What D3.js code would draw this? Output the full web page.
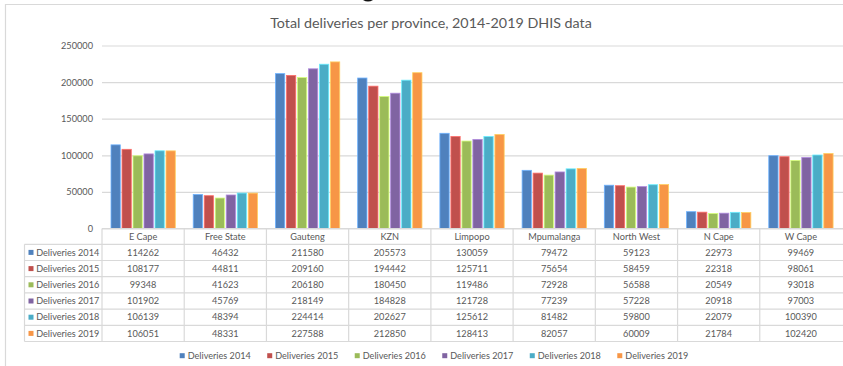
<!DOCTYPE html>
<html>
<head>
<meta charset="utf-8">
<script src="https://cdn.jsdelivr.net/npm/d3@7"></script>
<style>
  html, body { margin: 0; padding: 0; background: #fff; }
  svg { display: block; }
  text { font-family: Lato, "Noto Sans", sans-serif; fill: #595959; }
</style>
</head>
<body>
<svg id="chart" width="843" height="366"></svg>
<script>
// Provinces along the category axis
const provinces = ["E Cape", "Free State", "Gauteng", "KZN", "Limpopo", "Mpumalanga", "North West", "N Cape", "W Cape"];

// Series names (one per year)
const seriesNames = ["Deliveries 2014", "Deliveries 2015", "Deliveries 2016", "Deliveries 2017", "Deliveries 2018", "Deliveries 2019"];

// Deliveries per province, one array per year
const deliveries2014 = [114262, 46432, 211580, 205573, 130059, 79472, 59123, 22973, 99469];
const deliveries2015 = [108177, 44811, 209160, 194442, 125711, 75654, 58459, 22318, 98061];
const deliveries2016 = [99348, 41623, 206180, 180450, 119486, 72928, 56588, 20549, 93018];
const deliveries2017 = [101902, 45769, 218149, 184828, 121728, 77239, 57228, 20918, 97003];
const deliveries2018 = [106139, 48394, 224414, 202627, 125612, 81482, 59800, 22079, 100390];
const deliveries2019 = [106051, 48331, 227588, 212850, 128413, 82057, 60009, 21784, 102420];

// Value axis ticks
const yTicks = [0, 50000, 100000, 150000, 200000, 250000];

const seriesValues = [deliveries2014, deliveries2015, deliveries2016, deliveries2017, deliveries2018, deliveries2019];
const seriesColors = ["#4f81bd", "#c0504d", "#9bbb59", "#8064a2", "#4bacc6", "#f79646"];

const svg = d3.select("#chart");
const W = 843, H = 366;

// Layout
const plotLeft = 102, plotRight = 842;
const plotTop = 45.5, plotBottom = 228.5;
const headerLeft = 24.5;
const rowH = 16.2;
const tableTop = plotBottom;          // header row (province names)
const rowsTop = tableTop + 15.8;      // first data row
const tableBottom = rowsTop + rowH * seriesNames.length;
const gridColor = "#d9d9d9";

// Scales
const x0 = d3.scaleBand().domain(provinces).range([plotLeft, plotRight]).padding(0);
const x1 = d3.scaleBand().domain(seriesNames).range([9, 73.3]).paddingInner(0.155).paddingOuter(0);
const y = d3.scaleLinear().domain([0, 250000]).range([plotBottom, plotTop]);
const color = d3.scaleOrdinal().domain(seriesNames).range(seriesColors);

// Chart frame (top and left edges visible)
svg.append("path")
  .attr("d", `M5.5,${H} V4.5 H${W}`)
  .attr("fill", "none").attr("stroke", gridColor).attr("stroke-width", 1.2);

// Dark sliver at the very top edge, left over from the page above the chart
svg.append("path")
  .attr("d", "M363,0 Q368,3 373,0 Z")
  .attr("fill", "#111");

// Title
svg.append("text")
  .attr("x", 431).attr("y", 27.5)
  .attr("text-anchor", "middle")
  .style("font-size", "14.3px")
  .text("Total deliveries per province, 2014-2019 DHIS data");

// Gridlines and value labels
const yAxis = d3.axisLeft(y).tickValues(yTicks).tickSize(-(W - plotLeft)).tickPadding(9).tickFormat(d3.format("d"));
const gy = svg.append("g").attr("transform", `translate(${plotLeft},0)`).call(yAxis);
gy.select(".domain").remove();
gy.selectAll(".tick line").attr("stroke", gridColor).attr("stroke-width", 1.2);
gy.selectAll(".tick text").style("font-size", "9.2px").attr("fill", "#595959").attr("font-family", null);

// Bars
const groups = svg.append("g").selectAll("g")
  .data(provinces)
  .join("g")
  .attr("transform", d => `translate(${x0(d)},0)`);

groups.selectAll("rect")
  .data((p, i) => seriesNames.map((s, k) => ({ series: s, value: seriesValues[k][i] })))
  .join("rect")
  .attr("x", d => x1(d.series))
  .attr("width", x1.bandwidth())
  .attr("y", d => y(d.value))
  .attr("height", d => y(0) - y(d.value))
  .attr("fill", d => color(d.series))
  .attr("stroke", d => d3.color(color(d.series)).brighter(0.9))
  .attr("stroke-width", 0.8);

// Data table
const table = svg.append("g");

// horizontal rules
table.append("line")
  .attr("x1", plotLeft).attr("x2", W).attr("y1", tableTop).attr("y2", tableTop)
  .attr("stroke", gridColor).attr("stroke-width", 1.2);
d3.range(seriesNames.length + 1).forEach(i => {
  const yy = rowsTop + i * rowH;
  table.append("line")
    .attr("x1", headerLeft).attr("x2", W).attr("y1", yy).attr("y2", yy)
    .attr("stroke", gridColor).attr("stroke-width", 1.2);
});
// vertical rules
table.append("line")
  .attr("x1", headerLeft).attr("x2", headerLeft).attr("y1", rowsTop).attr("y2", tableBottom)
  .attr("stroke", gridColor).attr("stroke-width", 1.2);
provinces.forEach(p => {
  table.append("line")
    .attr("x1", x0(p)).attr("x2", x0(p)).attr("y1", tableTop).attr("y2", tableBottom)
    .attr("stroke", gridColor).attr("stroke-width", 1.2);
});

// province names (header row)
table.selectAll("text.cat")
  .data(provinces)
  .join("text")
  .attr("class", "cat")
  .attr("x", d => x0(d) + x0.bandwidth() / 2)
  .attr("y", (tableTop + rowsTop) / 2)
  .attr("dy", "0.35em")
  .attr("text-anchor", "middle")
  .style("font-size", "9.2px")
  .text(d => d);

// row headers with series keys
seriesNames.forEach((s, k) => {
  const cy = rowsTop + rowH * (k + 0.5);
  table.append("rect")
    .attr("x", 28.5).attr("y", cy - 2.5).attr("width", 5).attr("height", 5)
    .attr("fill", color(s));
  table.append("text")
    .attr("x", 36.2).attr("y", cy).attr("dy", "0.35em")
    .style("font-size", "9.1px")
    .text(s);
  // values
  provinces.forEach((p, i) => {
    table.append("text")
      .attr("x", x0(p) + x0.bandwidth() / 2)
      .attr("y", cy).attr("dy", "0.35em")
      .attr("text-anchor", "middle")
      .style("font-size", "9.2px")
      .text(seriesValues[k][i]);
  });
});

// Legend
const legend = svg.append("g");
const legendY = 355.7;
const items = legend.selectAll("g")
  .data(seriesNames)
  .join("g");
items.append("rect")
  .attr("y", legendY - 2.5).attr("width", 5).attr("height", 5)
  .attr("fill", d => color(d));
items.append("text")
  .attr("x", 8).attr("y", legendY).attr("dy", "0.35em")
  .style("font-size", "9.1px")
  .text(d => d);
let lx = 0;
const offsets = [];
items.each(function () {
  offsets.push(lx);
  const w = d3.select(this).select("text").node().getComputedTextLength();
  lx += 8 + w + 16.5;
});
const legendWidth = lx - 16.5;
const legendStart = 434 - legendWidth / 2;
items.attr("transform", (d, i) => `translate(${legendStart + offsets[i]},0)`);
</script>
</body>
</html>
